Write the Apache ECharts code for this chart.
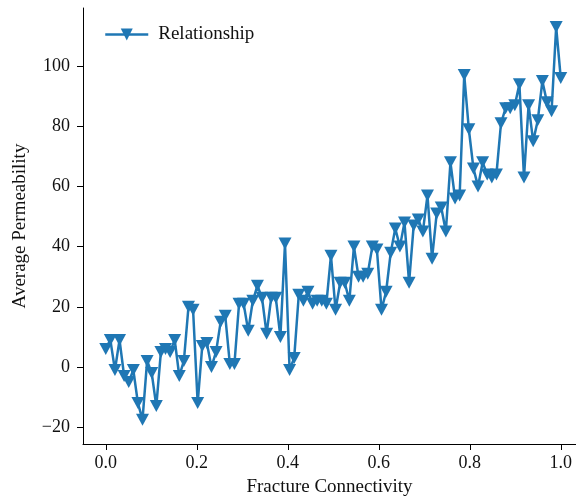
<!DOCTYPE html>
<html>
<head>
<meta charset="utf-8">
<script src="https://cdn.jsdelivr.net/npm/echarts@6/dist/echarts.min.js"></script>
<style>html,body{margin:0;padding:0;background:#fff}#c{width:576px;height:502px}</style>
</head>
<body>
<div id="c"></div>
<script>
const seriesName = 'Relationship';
const xTicks = [0, 0.2, 0.4, 0.6, 0.8, 1.0];
const yTicks = [-20, 0, 20, 40, 60, 80, 100];
const permeability = [
  6, 9, -1, 9, -3, -5, -1, -12, -17.5, 2,
  -2, -13, 5, 6, 5, 9, -3, 2, 20, 19,
  -12, 7, 8, 0, 5, 15, 17, 1, 1, 21,
  21, 12, 22, 27, 23, 11, 23, 23, 10, 41,
  -1, 3, 24, 22, 25, 21, 22, 22, 21, 37,
  19, 28, 28, 22, 40, 30, 30, 31, 40, 39,
  19, 25, 38, 46, 40, 48, 28, 47, 49, 45,
  57, 36, 51, 53, 45, 68, 56, 57, 97, 79,
  66, 60, 68, 64, 63, 64, 81, 86, 86, 87,
  94, 63, 87, 75, 82, 95, 88, 85, 113, 96
];
const connectivity = permeability.map((_, i) => i / (permeability.length - 1));

const font = 'Liberation Serif, Times New Roman, serif';
const blue = '#1f77b4';
const triDown = 'path://M0,0 L10,0 L5,9 Z';
const minus = v => String(v).replace('-', '\u2212');

const chart = echarts.init(document.getElementById('c'), null, {renderer: 'canvas'});
chart.setOption({
  animation: false,
  backgroundColor: '#fff',
  grid: {left: 83, right: 0, top: 8, bottom: 58, containLabel: false},
  legend: {
    data: [seriesName],
    left: 99, top: 20,
    itemWidth: 43, itemHeight: 15, itemGap: 10,
    lineStyle: {width: 2.5},
    textStyle: {fontFamily: font, fontSize: 19, color: '#111', padding: [0, 0, 0, 5]}
  },
  xAxis: {
    type: 'value', min: -0.05, max: 1.0335,
    name: 'Fracture Connectivity', nameLocation: 'middle', nameGap: 34,
    nameTextStyle: {fontFamily: font, fontSize: 19, color: '#111'},
    axisLine: {show: true, onZero: false, lineStyle: {color: '#000', width: 1}},
    axisTick: {show: true, length: 6, inside: false, customValues: xTicks, lineStyle: {color: '#000'}},
    axisLabel: {customValues: xTicks, formatter: v => v.toFixed(1), fontFamily: font, fontSize: 18, color: '#111', margin: 10},
    splitLine: {show: false}
  },
  yAxis: {
    type: 'value', min: -25.6, max: 119.3,
    name: 'Average Permeability', nameLocation: 'middle', nameGap: 53,
    nameTextStyle: {fontFamily: font, fontSize: 19, color: '#111'},
    axisLine: {show: true, onZero: false, lineStyle: {color: '#000', width: 1}},
    axisTick: {show: true, length: 6, inside: false, customValues: yTicks, lineStyle: {color: '#000'}},
    axisLabel: {customValues: yTicks, formatter: v => minus(v), fontFamily: font, fontSize: 18, color: '#111', margin: 13},
    splitLine: {show: false}
  },
  series: [{
    name: seriesName,
    type: 'line',
    data: connectivity.map((x, i) => [x, permeability[i]]),
    symbol: triDown,
    symbolSize: [13, 12],
    showAllSymbol: true,
    lineStyle: {color: blue, width: 2.5},
    itemStyle: {color: blue, borderWidth: 0},
    emphasis: {disabled: true}
  }]
});
</script>
</body>
</html>
